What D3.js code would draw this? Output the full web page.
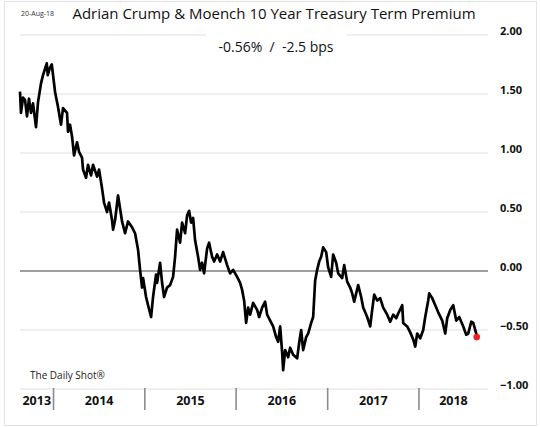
<!DOCTYPE html>
<html>
<head>
<meta charset="utf-8">
<script src="https://cdn.jsdelivr.net/npm/d3@7"></script>
<style>
  body { margin: 0; background: #fff; }
  svg { display: block; }
</style>
</head>
<body>
<svg id="chart" width="540" height="427"></svg>
<script>
// ACM 10y term premium (%)
var dates = [
  "2013-08-20","2013-08-24","2013-09-01","2013-09-09","2013-09-17","2013-09-25","2013-10-03","2013-10-11",
  "2013-10-23","2013-10-31","2013-11-12","2013-11-20","2013-12-05","2013-12-09","2013-12-17","2013-12-25",
  "2013-12-29","2014-01-07","2014-01-19","2014-01-31","2014-02-08","2014-02-24","2014-02-28","2014-03-08",
  "2014-03-16","2014-03-24","2014-04-05","2014-04-13","2014-04-25","2014-04-29","2014-05-11","2014-05-19",
  "2014-05-31","2014-06-08","2014-06-24","2014-07-02","2014-07-14","2014-07-22","2014-08-03","2014-08-11",
  "2014-08-23","2014-08-27","2014-09-04","2014-09-16","2014-09-24","2014-10-02","2014-10-14","2014-10-26",
  "2014-11-11","2014-11-23","2014-12-05","2014-12-13","2014-12-21","2014-12-25","2015-01-06","2015-01-14",
  "2015-01-26","2015-02-03","2015-02-15","2015-02-19","2015-03-03","2015-03-11","2015-03-19","2015-03-31",
  "2015-04-12","2015-04-24","2015-05-02","2015-05-10","2015-05-22","2015-05-30","2015-06-11","2015-06-19",
  "2015-06-27","2015-07-05","2015-07-13","2015-07-21","2015-08-02","2015-08-10","2015-08-18","2015-08-26",
  "2015-09-07","2015-09-15","2015-09-27","2015-10-05","2015-10-17","2015-10-29","2015-11-10","2015-11-26",
  "2015-12-08","2015-12-20","2016-01-05","2016-01-17","2016-01-25","2016-02-02","2016-02-10","2016-02-18",
  "2016-02-26","2016-03-09","2016-03-25","2016-04-02","2016-04-14","2016-04-26","2016-05-04","2016-05-16",
  "2016-05-28","2016-06-09","2016-06-17","2016-06-25","2016-07-03","2016-07-07","2016-07-15","2016-07-27",
  "2016-08-04","2016-08-16","2016-09-01","2016-09-09","2016-09-17","2016-09-25","2016-10-07","2016-10-15",
  "2016-10-27","2016-11-04","2016-11-12","2016-11-20","2016-11-28","2016-12-06","2016-12-14","2016-12-26",
  "2017-01-03","2017-01-15","2017-01-23","2017-02-04","2017-02-12","2017-02-28","2017-03-08","2017-03-20",
  "2017-04-01","2017-04-09","2017-04-17","2017-04-25","2017-05-03","2017-05-15","2017-05-23","2017-06-08",
  "2017-06-20","2017-06-28","2017-07-06","2017-07-18","2017-07-30","2017-08-11","2017-08-27","2017-09-08",
  "2017-09-20","2017-10-02","2017-10-10","2017-10-26","2017-10-30","2017-11-15","2017-11-27","2017-12-09",
  "2017-12-17","2017-12-25","2018-01-06","2018-01-18","2018-01-26","2018-02-07","2018-02-11","2018-02-23",
  "2018-03-07","2018-03-19","2018-04-04","2018-04-16","2018-04-24","2018-05-06","2018-05-18","2018-05-30",
  "2018-06-11","2018-06-27","2018-07-09","2018-07-17","2018-07-29","2018-08-06","2018-08-18","2018-08-20"
];
var premium = [
  1.52,1.34,1.47,1.45,1.31,1.46,1.34,1.42,
  1.22,1.43,1.59,1.66,1.76,1.66,1.72,1.75,
  1.68,1.52,1.39,1.24,1.38,1.34,1.18,1.24,
  1.14,0.98,1.09,1.01,0.96,0.86,0.79,0.90,
  0.81,0.90,0.80,0.86,0.70,0.58,0.50,0.58,
  0.43,0.35,0.43,0.64,0.53,0.42,0.32,0.42,
  0.37,0.32,0.18,0.01,-0.14,-0.06,-0.22,-0.29,
  -0.39,-0.22,-0.03,-0.10,0.07,-0.10,-0.22,-0.14,
  -0.12,-0.05,0.12,0.35,0.24,0.41,0.32,0.47,
  0.51,0.41,0.45,0.26,0.12,0.01,0.07,-0.02,
  0.19,0.24,0.12,0.08,0.14,0.08,0.16,0.05,
  -0.02,0.01,-0.05,-0.10,-0.16,-0.25,-0.44,-0.31,
  -0.37,-0.27,-0.33,-0.39,-0.31,-0.26,-0.37,-0.42,
  -0.47,-0.56,-0.60,-0.47,-0.69,-0.84,-0.67,-0.73,
  -0.65,-0.71,-0.74,-0.61,-0.50,-0.67,-0.56,-0.53,
  -0.44,-0.39,-0.08,0.01,0.08,0.12,0.20,0.16,
  0.03,-0.05,0.14,0.07,-0.02,-0.06,0.05,-0.09,
  -0.14,-0.19,-0.26,-0.19,-0.12,-0.22,-0.31,-0.39,
  -0.47,-0.33,-0.20,-0.25,-0.23,-0.31,-0.37,-0.43,
  -0.37,-0.40,-0.36,-0.29,-0.44,-0.47,-0.52,-0.58,
  -0.64,-0.53,-0.57,-0.50,-0.39,-0.25,-0.19,-0.23,
  -0.29,-0.35,-0.42,-0.53,-0.40,-0.33,-0.29,-0.42,
  -0.39,-0.47,-0.54,-0.53,-0.43,-0.44,-0.53,-0.56
];
var yTicks = [2.0, 1.5, 1.0, 0.5, 0.0, -0.5, -1.0];
var yearLabels = ["2013", "2014", "2015", "2016", "2017", "2018"];
var axisStart = "2013-08-20", axisEnd = "2018-10-04";

var parse = d3.timeParse("%Y-%m-%d");
var data = dates.map(function(d, i) { return { date: parse(d), value: premium[i] }; });

var svg = d3.select("#chart");
var font = "'Open Sans', sans-serif";

var x = d3.scaleTime()
  .domain([parse(axisStart), parse(axisEnd)])
  .range([20, 488]);
var y = d3.scaleLinear()
  .domain([-1, 2])
  .range([389, 35]);

// outer frame
svg.append("rect")
  .attr("x", 4.5).attr("y", 1.5)
  .attr("width", 532).attr("height", 424)
  .attr("fill", "none").attr("stroke", "#e3e3e3");

// y gridlines + labels
var yAxis = d3.axisRight(y)
  .tickValues(yTicks)
  .tickSize(0)
  .tickFormat(d3.format(".2f"));
var gy = svg.append("g")
  .attr("transform", "translate(500,0)")
  .call(yAxis);
gy.select(".domain").remove();
gy.selectAll("text")
  .attr("x", 0).attr("dy", "-0.05em")
  .style("font-family", font).style("font-size", "11px")
  .style("font-weight", "bold").attr("fill", "#111");

svg.append("g").selectAll("line")
  .data(yTicks)
  .join("line")
  .attr("x1", x.range()[0]).attr("x2", x.range()[1])
  .attr("y1", function(d) { return y(d); })
  .attr("y2", function(d) { return y(d); })
  .attr("stroke", function(d) { return d === 0 ? "#7f7f7f" : "#e0e0e0"; })
  .attr("stroke-width", function(d) { return d === 0 ? 1.5 : 1.2; });

// year separators and labels
var bounds = [parse(axisStart)]
  .concat(yearLabels.slice(1).map(function(yr) { return parse(yr + "-01-01"); }))
  .concat([parse(axisEnd)]);

svg.append("g").selectAll("line")
  .data(bounds.slice(1, -1))
  .join("line")
  .attr("x1", function(d) { return x(d); })
  .attr("x2", function(d) { return x(d); })
  .attr("y1", 388).attr("y2", 410)
  .attr("stroke", "#8c8c8c").attr("stroke-width", 1.6);

svg.append("g").selectAll("text")
  .data(yearLabels)
  .join("text")
  .attr("x", function(d, i) { return (x(bounds[i]) + x(bounds[i + 1])) / 2; })
  .attr("y", 404.5)
  .attr("text-anchor", "middle")
  .style("font-family", font).style("font-size", "12.5px")
  .style("font-weight", "bold").attr("fill", "#111")
  .text(function(d) { return d; });

// the series
var line = d3.line()
  .x(function(d) { return x(d.date); })
  .y(function(d) { return y(d.value); });

svg.append("path")
  .datum(data)
  .attr("d", line)
  .attr("fill", "none")
  .attr("stroke", "#000")
  .attr("stroke-width", 2.7)
  .attr("stroke-linejoin", "round");

var last = data[data.length - 1];
svg.append("circle")
  .attr("cx", x(last.date)).attr("cy", y(last.value))
  .attr("r", 3.3).attr("fill", "#f01e1e");

// titles
svg.append("text")
  .attr("x", 21).attr("y", 16)
  .style("font-family", font).style("font-size", "7px").attr("fill", "#333")
  .text("20-Aug-18");

svg.append("text")
  .attr("x", 274).attr("y", 19)
  .attr("text-anchor", "middle")
  .style("font-family", font).style("font-size", "15px").attr("fill", "#111")
  .text("Adrian Crump & Moench 10 Year Treasury Term Premium");

svg.append("rect")
  .attr("x", 206).attr("y", 30).attr("width", 141).attr("height", 26)
  .attr("fill", "#fff");
svg.append("text")
  .attr("x", 276).attr("y", 51.5)
  .attr("text-anchor", "middle")
  .attr("xml:space", "preserve")
  .style("white-space", "pre")
  .style("font-family", font).style("font-size", "14px").attr("fill", "#111")
  .text("-0.56%  /  -2.5 bps");

svg.append("text")
  .attr("x", 30).attr("y", 379)
  .style("font-family", font).style("font-size", "10px").attr("fill", "#222")
  .text("The Daily Shot®");
</script>
</body>
</html>
